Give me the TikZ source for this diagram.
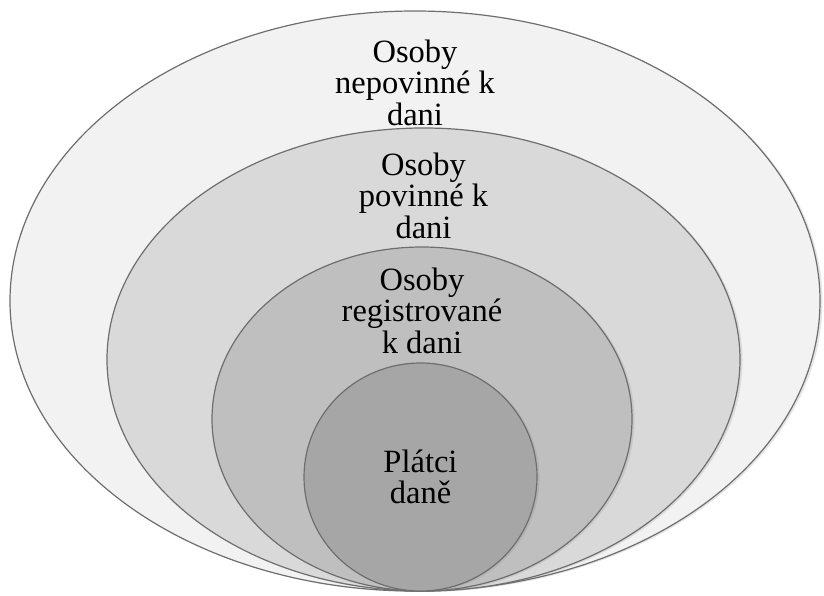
\documentclass[tikz,border=0pt]{standalone}
\usepackage{fontspec}
\setmainfont{Liberation Serif}
\usetikzlibrary{positioning,shapes.geometric,shadows}
\definecolor{ringline}{HTML}{6E6E6E}
\definecolor{ringA}{HTML}{F2F2F2}
\definecolor{ringB}{HTML}{D9D9D9}
\definecolor{ringC}{HTML}{BFBFBF}
\definecolor{ringD}{HTML}{A6A6A6}

\begin{document}
\begin{tikzpicture}[x=1pt, y=-1pt]
\tikzset{ring/.style={ellipse, draw=ringline, line width=1.2pt, inner sep=0pt,
  drop shadow={shadow xshift=2.5pt, shadow yshift=-1pt, opacity=0.2}}}
\tikzset{ringtext/.style={align=center, inner sep=0pt, font=\fontsize{32.5}{31.5}\selectfont}}
\useasboundingbox (0,0) rectangle (824,596);
% nested rings, all touching at the bottom
\node[ring, fill=ringA, minimum width=810pt, minimum height=580pt] (outer) at (415,301) {};
\node[ring, fill=ringB, minimum width=633pt, minimum height=463pt] (taxable) at (423.5,359.5) {};
\node[ring, fill=ringC, minimum width=420pt, minimum height=344pt] (registered) at (422,419) {};
\node[ring, fill=ringD, minimum width=233pt, minimum height=228pt] (payers) at (420.5,477) {};
% labels
\node[ringtext, below=29pt of outer.north] (outertext) {Osoby\\nepovinné k\\dani};
\node[ringtext, below=25pt of taxable.north] (taxabletext) {Osoby\\povinné k\\dani};
\node[ringtext, below=21pt of registered.north] (registeredtext) {Osoby\\registrované\\k dani};
\node[ringtext] (payerstext) at (payers.center) {Plátci\\daně};
\end{tikzpicture}
\end{document}
